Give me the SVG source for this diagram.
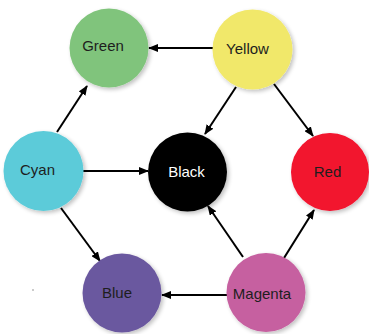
<svg xmlns="http://www.w3.org/2000/svg" width="369" height="334" viewBox="0 0 369 334">
<defs>
<marker id="ah" markerWidth="10" markerHeight="8" refX="9" refY="4" orient="auto" markerUnits="userSpaceOnUse">
<path d="M0,0 L10,4 L0,8 Z" fill="#000"/>
</marker>
<filter id="sh" x="-20%" y="-20%" width="150%" height="150%">
<feGaussianBlur in="SourceAlpha" stdDeviation="2"/>
<feOffset dx="2" dy="2" result="b"/>
<feComponentTransfer><feFuncA type="linear" slope="0.25"/></feComponentTransfer>
<feMerge><feMergeNode/><feMergeNode in="SourceGraphic"/></feMerge>
</filter>
</defs>
<style>
.n{filter:url(#sh);}
.t{font-family:"Liberation Sans",Arial,sans-serif;font-size:15px;text-anchor:middle;fill:#1e1e1e;}
.w{fill:#fff;}
.c{stroke:#000;stroke-width:2;fill:none;marker-end:url(#ah);}
</style>
<rect width="369" height="334" fill="#fff"/>
<g id="connectors">
<line class="c" x1="213" y1="48" x2="149" y2="48"/>
<line class="c" x1="57" y1="132" x2="87" y2="86"/>
<line class="c" x1="236" y1="87" x2="205" y2="134"/>
<line class="c" x1="274" y1="84" x2="313" y2="136"/>
<line class="c" x1="83" y1="171" x2="148" y2="171"/>
<line class="c" x1="61" y1="208" x2="100" y2="261"/>
<line class="c" x1="243" y1="257" x2="208" y2="206"/>
<line class="c" x1="284" y1="258" x2="314" y2="210"/>
<line class="c" x1="227" y1="295" x2="162" y2="295"/>
</g>
<g id="green"><circle class="n" cx="109" cy="48" r="39.5" fill="#80c47c"/><text class="t" x="103" y="51">Green</text></g>
<g id="yellow"><circle class="n" cx="252.5" cy="49.5" r="40" fill="#f1e86a"/><text class="t" x="247.5" y="54">Yellow</text></g>
<g id="cyan"><circle class="n" cx="43.5" cy="171" r="40" fill="#5ccbd9"/><text class="t" x="37.5" y="175">Cyan</text></g>
<g id="black"><circle class="n" cx="187.5" cy="172" r="39.5" fill="#000"/><text class="t w" x="186.5" y="177">Black</text></g>
<g id="red"><circle class="n" cx="330" cy="172" r="39" fill="#f2132f"/><text class="t" x="327.5" y="177">Red</text></g>
<g id="blue"><circle class="n" cx="122" cy="293" r="39.5" fill="#6b589f"/><text class="t" x="117" y="298">Blue</text></g>
<g id="magenta"><circle class="n" cx="266" cy="292.5" r="39.5" fill="#c660a0"/><text class="t" x="262" y="299">Magenta</text></g>
<circle cx="33" cy="290" r="0.8" fill="#888"/>
</svg>
